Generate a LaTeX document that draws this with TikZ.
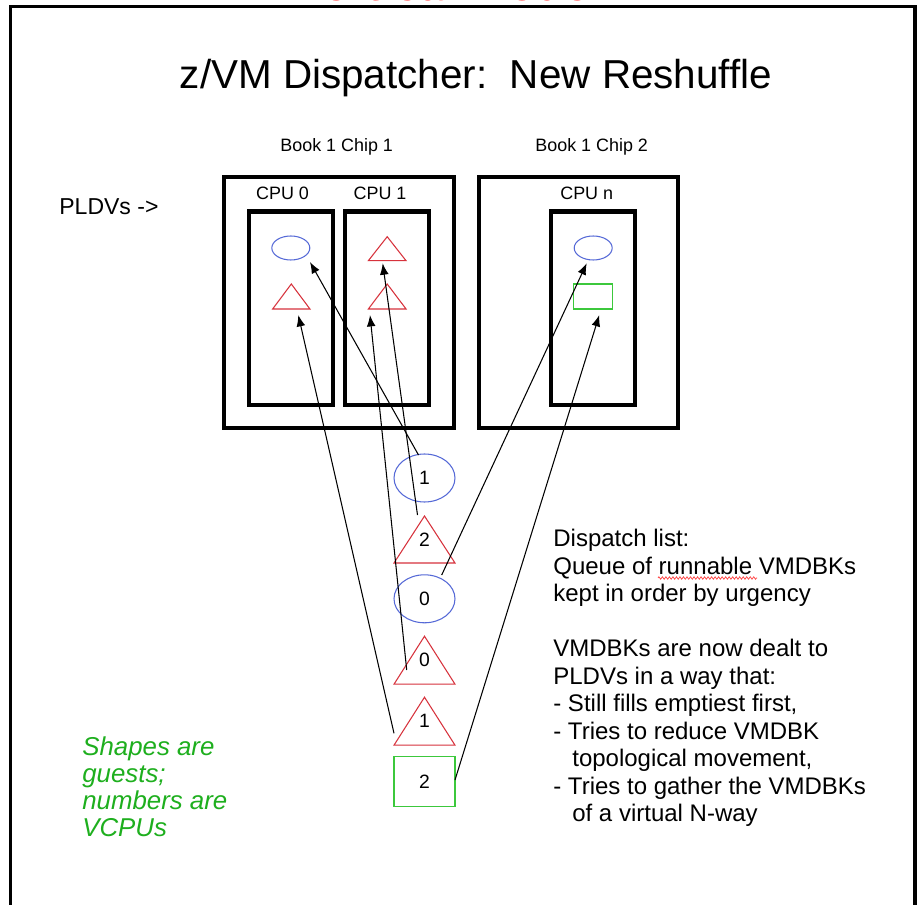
\documentclass[tikz,border=0pt]{standalone}
\usepackage{fontspec}
\setmainfont{Liberation Sans}
\usetikzlibrary{shapes.geometric,arrows.meta,calc,decorations.pathmorphing}
\definecolor{ellblue}{RGB}{85,105,215}
\definecolor{trired}{RGB}{215,50,60}
\definecolor{rectgreen}{RGB}{60,200,60}
\definecolor{notegreen}{RGB}{30,175,30}
\definecolor{modered}{RGB}{255,0,0}
\tikzset{
  box/.style={draw, line width=2.3pt, inner sep=0pt, outer sep=0pt},
  ell/.style={ellipse, draw=ellblue, line width=0.6pt, inner sep=0pt, outer sep=0pt},
  tribox/.style={inner sep=0pt, outer sep=0pt},
  tri/.style={draw=trired, line width=0.6pt, line join=miter},
  grn/.style={draw=rectgreen, line width=0.6pt, inner sep=0pt, outer sep=0pt},
  arr/.style={-{Latex[length=6.5pt,width=5pt]}, line width=0.6pt},
  small/.style={font=\fontsize{10.2}{12}\selectfont, inner sep=0pt},
  num/.style={font=\fontsize{11}{13}\selectfont},
  smallshape/.style={minimum width=0.76cm, minimum height=0.48cm},
  bigshape/.style={minimum width=1.22cm, minimum height=0.96cm},
}
\newcommand{\lowd}[1]{\raisebox{-0.24cm}{#1}}
\begin{document}
\begin{tikzpicture}[x=0.02cm,y=-0.02cm]
\useasboundingbox (0,0) rectangle (920,905);
\clip (0,0) rectangle (920,905);
\fill[white] (0,0) rectangle (920,905);

% cut-off red heading and frame
\node[font=\bfseries\fontsize{26}{30}\selectfont, text=modered, anchor=base, inner sep=0pt] (mode) at (442.5,1) {Vertical Mode};
\draw[line width=1.8pt] (10.5,915) -- (10.5,6.5) -- (915,6.5) -- (915,915);

% title
\node[font=\fontsize{23}{27}\selectfont, anchor=base, inner sep=0pt] (title) at (476,88.3) {z/VM Dispatcher:\ \ New Reshuffle};

% labels
\node[small, anchor=base] (b1) at (336.7,151.7) {Book 1 Chip 1};
\node[small, anchor=base] (b2) at (591.7,151.7) {Book 1 Chip 2};
\node[font=\fontsize{13.1}{15}\selectfont, anchor=base west, inner sep=0pt] (pldv) at (59,215) {PLDVs ->};

% chip and cpu boxes
\node[box, minimum width=4.6cm, minimum height=5.02cm] (chip1) at (339,302.5) {};
\node[box, minimum width=3.98cm, minimum height=5.02cm] (chip2) at (578.5,302.5) {};
\node[box, minimum width=1.68cm, minimum height=3.87cm] (cpu0) at (291,308.25) {};
\node[box, minimum width=1.68cm, minimum height=3.87cm] (cpu1) at (387.2,308.25) {};
\node[box, minimum width=1.68cm, minimum height=3.87cm] (cpun) at (593,308.25) {};
\node[small, anchor=base] (l0) at (282.5,200) {CPU 0};
\node[small, anchor=base] (l1) at (380,200) {CPU 1};
\node[small, anchor=base] (ln) at (586.7,200) {CPU n};

% guests on the PLDVs
\node[ell, smallshape] (c0e) at (290.8,248) {};
\node[tribox, minimum width=0.746cm, minimum height=0.5cm] (c0t) at (291.3,296.5) {};
\node[tribox, minimum width=0.754cm, minimum height=0.48cm] (c1ta) at (387.2,248.7) {};
\node[tribox, minimum width=0.754cm, minimum height=0.5cm] (c1tb) at (387.2,296.5) {};
\node[ell, smallshape] (cne) at (593.2,248) {};
\node[grn, draw, minimum width=0.774cm, minimum height=0.5cm] (cnr) at (593.3,296.5) {};

% dispatch list
\node[ell, bigshape, num] (e1) at (424.5,478) {1};
\node[tribox, bigshape, minimum height=0.94cm, num] (t2) at (424.5,539.5) {\lowd{2}};
\node[ell, bigshape, num] (e0) at (424.5,598.8) {0};
\node[tribox, bigshape, num] (t0) at (424.5,660.2) {\lowd{0}};
\node[tribox, bigshape, num] (t1) at (424.5,721.2) {\lowd{1}};
\node[grn, draw, minimum width=1.22cm, minimum height=1cm, num] (s2) at (424.5,781.7) {2};

\foreach \n in {c0t,c1ta,c1tb,t2,t0,t1}
  \draw[tri] (\n.north) -- (\n.south east) -- (\n.south west) -- cycle;

% connectors
\draw[arr] ($(e1.center)+(-6,-23)$) -- ($(c0e.center)+(19.2,14)$);
\draw[arr] ($(t2.center)+(-7,-24.5)$) -- ($(c1ta.center)+(-4.5,14.6)$);
\draw[arr] ($(e0.center)+(17.2,-23.8)$) -- ($(cne.center)+(-6.5,15.3)$);
\draw[arr] ($(t0.center)+(-17.8,9.8)$) -- ($(c1tb.center)+(-17.2,18.5)$);
\draw[arr] ($(t1.center)+(-30.5,12.1)$) -- ($(c0t.center)+(7,18.5)$);
\draw[arr] ($(s2.center)+(30.5,-1.7)$) -- ($(cnr.center)+(6,18.5)$);

% explanatory text
\node[anchor=north west, align=left, inner sep=0pt, font=\fontsize{13.66}{15.65}\selectfont] (disp) at (553,528.8)
 {Dispatch list:\\
  Queue of runnable VMDBKs\\
  kept in order by urgency\\[15.65pt]
  VMDBKs are now dealt to\\
  PLDVs in a way that:\\
  - Still fills emptiest first,\\
  - Tries to reduce VMDBK\\
  \hspace*{10.8pt}topological movement,\\
  - Tries to gather the VMDBKs\\
  \hspace*{10.8pt}of a virtual N-way};
\draw[red!75, line width=0.4pt, decorate, decoration={zigzag, amplitude=0.7pt, segment length=2pt}] (658,578) -- (757,578);

\node[anchor=north west, align=left, inner sep=0pt, text=notegreen, font=\itshape\fontsize{14.7}{15.36}\selectfont] (note) at (82,736)
 {Shapes are\\ guests;\\ numbers are\\ VCPUs};
\end{tikzpicture}
\end{document}
